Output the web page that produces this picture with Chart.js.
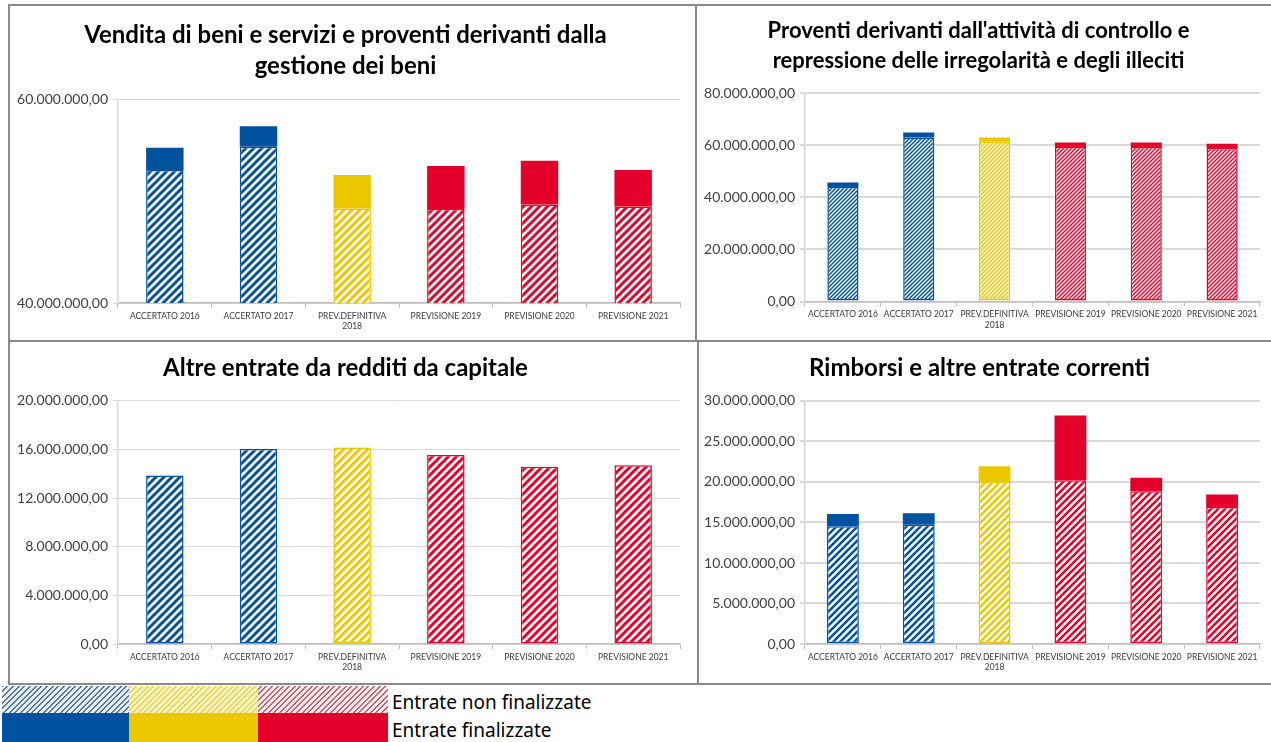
<!DOCTYPE html>
<html><head><meta charset="utf-8">
<script src="https://cdn.jsdelivr.net/npm/chart.js@4.4.0/dist/chart.umd.min.js"></script>
<style>
body{margin:0;width:1271px;height:742px;background:#fff;position:relative;overflow:hidden;font-family:Lato,sans-serif}
.box{position:absolute;box-sizing:border-box;border:2px solid #8a8a8a}
canvas{position:absolute}
.sw{position:absolute}
.lt{position:absolute;font-family:'Noto Sans',sans-serif;font-size:19px;color:#000;line-height:22px;white-space:nowrap}
</style></head><body>
<div class="box" style="left:8px;top:4px;width:689px;height:338px"></div>
<div class="box" style="left:695px;top:4px;width:590px;height:338px"></div>
<div class="box" style="left:8px;top:340px;width:691px;height:345px"></div>
<div class="box" style="left:697px;top:340px;width:590px;height:345px"></div>
<canvas id="c1" width="683" height="332" style="left:11px;top:7px"></canvas>
<canvas id="c2" width="574" height="332" style="left:697px;top:7px"></canvas>
<canvas id="c3" width="685" height="341" style="left:11px;top:342px"></canvas>
<canvas id="c4" width="572" height="341" style="left:699px;top:342px"></canvas>

<div class="sw" style="left:2px;top:686px;width:127px;height:27px;background:repeating-linear-gradient(-45deg,#557690 0 1.4px,#e3ecf2 1.4px 4px)"></div>
<div class="sw" style="left:129px;top:686px;width:129px;height:27px;background:repeating-linear-gradient(-45deg,#e6d552 0 1.4px,#f8f2c4 1.4px 4px)"></div>
<div class="sw" style="left:258px;top:686px;width:130px;height:27px;background:repeating-linear-gradient(-45deg,#bc6474 0 1.4px,#f5e6e9 1.4px 4px)"></div>
<div class="sw" style="left:2px;top:713px;width:127px;height:29px;background:#00519E"></div>
<div class="sw" style="left:129px;top:713px;width:129px;height:29px;background:#EBC700"></div>
<div class="sw" style="left:258px;top:713px;width:130px;height:29px;background:#E5002B"></div>
<div class="lt" style="left:392px;top:691px">Entrate non finalizzate</div>
<div class="lt" style="left:392px;top:719px">Entrate finalizzate</div>

<script>
// ---- data ----
const categories = ['ACCERTATO 2016','ACCERTATO 2017',['PREV.DEFINITIVA','2018'],'PREVISIONE 2019','PREVISIONE 2020','PREVISIONE 2021'];

const venditaNonFin = [53100000, 55400000, 49300000, 49250000, 49700000, 49500000];
const venditaFin    = [2200000, 2000000, 3300000, 4250000, 4300000, 3600000];

const proventiNonFin = [43900000, 62900000, 61400000, 59300000, 59300000, 58900000];
const proventiFin    = [1800000, 1900000, 1500000, 1700000, 1700000, 1600000];

const altreNonFin = [13870000, 16050000, 16180000, 15550000, 14590000, 14700000];
const altreFin    = [0, 0, 0, 0, 0, 0];

const rimborsiNonFin = [14530000, 14730000, 20000000, 20200000, 18850000, 16910000];
const rimborsiFin    = [1520000, 1400000, 1930000, 7990000, 1680000, 1530000];

const titles = {
  vendita: ['Vendita di beni e servizi e proventi derivanti dalla','gestione dei beni'],
  proventi: ["Proventi derivanti dall'attività di controllo e","repressione delle irregolarità e degli illeciti"],
  altre: 'Altre entrate da redditi da capitale',
  rimborsi: 'Rimborsi e altre entrate correnti'
};

const BLUE='#00519E', YEL='#EBC700', RED='#E5002B';
const barColors=[BLUE,BLUE,YEL,RED,RED,RED];

function fmt(v){
  const s=Math.round(v).toString().replace(/\B(?=(\d{3})+(?!\d))/g,'.');
  return s+',00';
}
function hatch(ctx,color,size,lw){
  const t=document.createElement('canvas');t.width=size;t.height=size;
  const g=t.getContext('2d');
  g.fillStyle='#fff';g.fillRect(0,0,size,size);
  g.strokeStyle=color;g.lineWidth=lw;g.lineCap='square';
  g.beginPath();
  g.moveTo(0,size);g.lineTo(size,0);
  g.moveTo(-size/2,size/2);g.lineTo(size/2,-size/2);
  g.moveTo(size/2,size*1.5);g.lineTo(size*1.5,size/2);
  g.stroke();
  return ctx.createPattern(t,'repeat');
}

function makeChart(id,o){
  const cv=document.getElementById(id);
  const ctx=cv.getContext('2d');
  const pats=barColors.map(c=>hatch(ctx,c,o.hs,o.hlw));
  new Chart(cv,{
    type:'bar',
    data:{labels:categories,datasets:[
      {label:'Entrate non finalizzate',data:o.nonFin,backgroundColor:pats,borderColor:barColors,borderWidth:1.5,borderSkipped:false,barPercentage:o.bp,categoryPercentage:1},
      {label:'Entrate finalizzate',data:o.fin,backgroundColor:barColors,borderWidth:0,barPercentage:o.bp,categoryPercentage:1}
    ]},
    options:{
      responsive:false,animation:false,
      layout:{padding:{left:0,right:o.pr,top:0,bottom:0}},
      plugins:{
        legend:{display:false},tooltip:{enabled:false},
        title:{display:true,text:o.title,color:'#000',font:{family:'Lato',weight:'bold',size:o.ts,lineHeight:o.tlh},padding:{top:o.tpt,bottom:o.tpb}}
      },
      scales:{
        x:{stacked:true,
          grid:{display:true,drawOnChartArea:false,drawTicks:true,tickLength:5,color:'#bfbfbf',offset:true},
          border:{display:true,color:'#bfbfbf',width:1.5},
          ticks:{autoSkip:false,maxRotation:0,minRotation:0,padding:3,color:'#3a3a3a',font:{family:'Lato',size:8.5}},
          afterFit:s=>{s.height=o.xh;}
        },
        y:{stacked:true,min:o.min,max:o.max,
          grid:{color:'#d9d9d9',lineWidth:o.gw,tickLength:5},
          border:{display:true,color:'#d9d9d9',width:1.5},
          ticks:{stepSize:o.step,padding:5,color:'#404040',font:{family:'Lato',size:14},callback:v=>fmt(v)},
          afterFit:s=>{s.width=o.yw;}
        }
      }
    }
  });
}

makeChart('c1',{title:titles.vendita,ts:24,tlh:1.29,tpt:12.5,tpb:18.5,nonFin:venditaNonFin,fin:venditaFin,min:40000000,max:60000000,step:20000000,yw:107,xh:36,pr:14,hs:8,hlw:3,bp:0.4,gw:1});
makeChart('c2',{title:titles.proventi,ts:22,tlh:1.35,tpt:9,tpb:17.6,nonFin:proventiNonFin,fin:proventiFin,min:0,max:80000000,step:20000000,yw:108,xh:37.5,pr:11,hs:4,hlw:1.5,bp:0.41,gw:2});
makeChart('c3',{title:titles.altre,ts:24,tlh:1.29,tpt:11,tpb:17,nonFin:altreNonFin,fin:altreFin,min:0,max:20000000,step:4000000,yw:107,xh:39,pr:16,hs:8,hlw:3,bp:0.4,gw:1});
makeChart('c4',{title:titles.rimborsi,ts:24,tlh:1.29,tpt:11,tpb:17,nonFin:rimborsiNonFin,fin:rimborsiFin,min:0,max:30000000,step:5000000,yw:106,xh:39,pr:11,hs:7,hlw:2.5,bp:0.42,gw:2});
</script>
</body></html>
